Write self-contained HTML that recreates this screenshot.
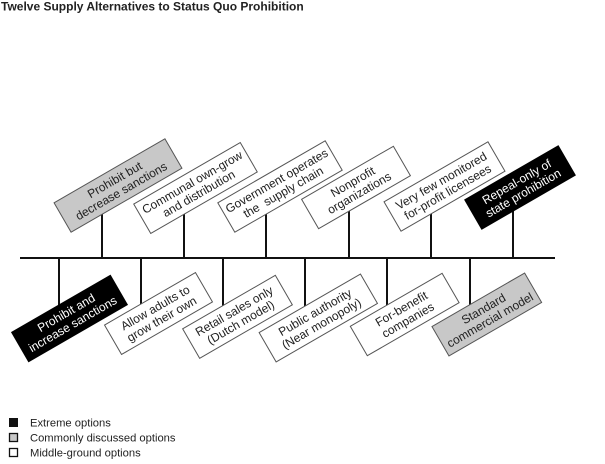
<!DOCTYPE html>
<html><head><meta charset="utf-8"><style>
html,body{margin:0;padding:0;background:#fff;}
svg{display:block;}
text{font-family:"Liberation Sans",Arial,sans-serif;}
</style></head><body>
<svg width="605" height="464" viewBox="0 0 605 464" xmlns="http://www.w3.org/2000/svg">
<text x="1" y="10.5" font-size="12" font-weight="bold" fill="#222">Twelve Supply Alternatives to Status Quo Prohibition</text>

<!-- stems -->
<g stroke="#111" stroke-width="2">
<line x1="20" y1="258" x2="555" y2="258"/>
<line x1="102" y1="200" x2="102" y2="258"/>
<line x1="184" y1="200" x2="184" y2="258"/>
<line x1="266" y1="200" x2="266" y2="258"/>
<line x1="349" y1="200" x2="349" y2="258"/>
<line x1="431" y1="200" x2="431" y2="258"/>
<line x1="513" y1="200" x2="513" y2="258"/>
<line x1="59" y1="258" x2="59" y2="318"/>
<line x1="141" y1="258" x2="141" y2="313"/>
<line x1="223" y1="258" x2="223" y2="316"/>
<line x1="305" y1="258" x2="305" y2="318"/>
<line x1="387" y1="258" x2="387" y2="314"/>
<line x1="470" y1="258" x2="470" y2="314"/>
</g>

<g font-size="12" text-anchor="middle" dominant-baseline="central">
<!-- top row -->
<g transform="translate(118,185.5) rotate(-30)">
<rect x="-64" y="-17" width="128" height="34" fill="#c8c8c8" stroke="#555" stroke-width="1"/>
<text y="-6.5" fill="#222">Prohibit but</text><text y="6.5" fill="#222">decrease sanctions</text></g>
<g transform="translate(195.5,188) rotate(-30)">
<rect x="-61.5" y="-17" width="123" height="34" fill="#fff" stroke="#555" stroke-width="1"/>
<text y="-6.5" fill="#222">Communal own-grow</text><text y="6.5" fill="#222">and distribution</text></g>
<g transform="translate(280,186.5) rotate(-30)">
<rect x="-62" y="-17" width="124" height="34" fill="#fff" stroke="#555" stroke-width="1"/>
<text y="-6.5" fill="#222">Government operates</text><text y="6.5" fill="#222" xml:space="preserve">the  supply chain</text></g>
<g transform="translate(356,187.5) rotate(-30)">
<rect x="-53" y="-17" width="106" height="34" fill="#fff" stroke="#555" stroke-width="1"/>
<text y="-6.5" fill="#222">Nonprofit</text><text y="6.5" fill="#222">organizations</text></g>
<g transform="translate(444.5,186.5) rotate(-30)">
<rect x="-60" y="-17" width="120" height="34" fill="#fff" stroke="#555" stroke-width="1"/>
<text y="-6.5" fill="#222">Very few monitored</text><text y="6.5" fill="#222">for-profit licensees</text></g>
<g transform="translate(520,187.5) rotate(-30)">
<rect x="-54" y="-17" width="108" height="34" fill="#000" stroke="#000" stroke-width="1"/>
<text y="-6.5" fill="#fff">Repeal-only of</text><text y="6.5" fill="#fff">state prohibition</text></g>

<!-- bottom row -->
<g transform="translate(69.5,318.5) rotate(-30)">
<rect x="-57" y="-17" width="114" height="34" fill="#000" stroke="#000" stroke-width="1"/>
<text y="-6.5" fill="#fff">Prohibit and</text><text y="6.5" fill="#fff">increase sanctions</text></g>
<g transform="translate(158.5,313.5) rotate(-30)">
<rect x="-52.5" y="-17" width="105" height="34" fill="#fff" stroke="#555" stroke-width="1"/>
<text y="-6.5" fill="#222">Allow adults to</text><text y="6.5" fill="#222">grow their own</text></g>
<g transform="translate(237.5,316.8) rotate(-30)">
<rect x="-53.5" y="-17" width="107" height="34" fill="#fff" stroke="#555" stroke-width="1"/>
<text y="-6.5" fill="#222">Retail sales only</text><text y="6.5" fill="#222">(Dutch model)</text></g>
<g transform="translate(318.3,318) rotate(-30)">
<rect x="-58.5" y="-17" width="117" height="34" fill="#fff" stroke="#555" stroke-width="1"/>
<text y="-6.5" fill="#222">Public authority</text><text y="6.5" fill="#222">(Near monopoly)</text></g>
<g transform="translate(404.7,314.5) rotate(-30)">
<rect x="-53" y="-17" width="106" height="34" fill="#fff" stroke="#555" stroke-width="1"/>
<text y="-6.5" fill="#222">For-benefit</text><text y="6.5" fill="#222">companies</text></g>
<g transform="translate(486.8,314.5) rotate(-30)">
<rect x="-53.5" y="-17" width="107" height="34" fill="#c8c8c8" stroke="#555" stroke-width="1"/>
<text y="-6.5" fill="#222">Standard</text><text y="6.5" fill="#222">commercial model</text></g>
</g>

<!-- legend -->
<rect x="9.5" y="418.5" width="8" height="8" fill="#111" stroke="#111" stroke-width="1"/>
<rect x="9.5" y="433.5" width="8" height="8" fill="#c8c8c8" stroke="#111" stroke-width="1.3"/>
<rect x="9.5" y="448.5" width="8" height="8" fill="#fff" stroke="#111" stroke-width="1.3"/>
<g font-size="11.2" fill="#222">
<text x="30" y="426.5">Extreme options</text>
<text x="30" y="441.5">Commonly discussed options</text>
<text x="30" y="456.5">Middle-ground options</text>
</g>
</svg>
</body></html>
